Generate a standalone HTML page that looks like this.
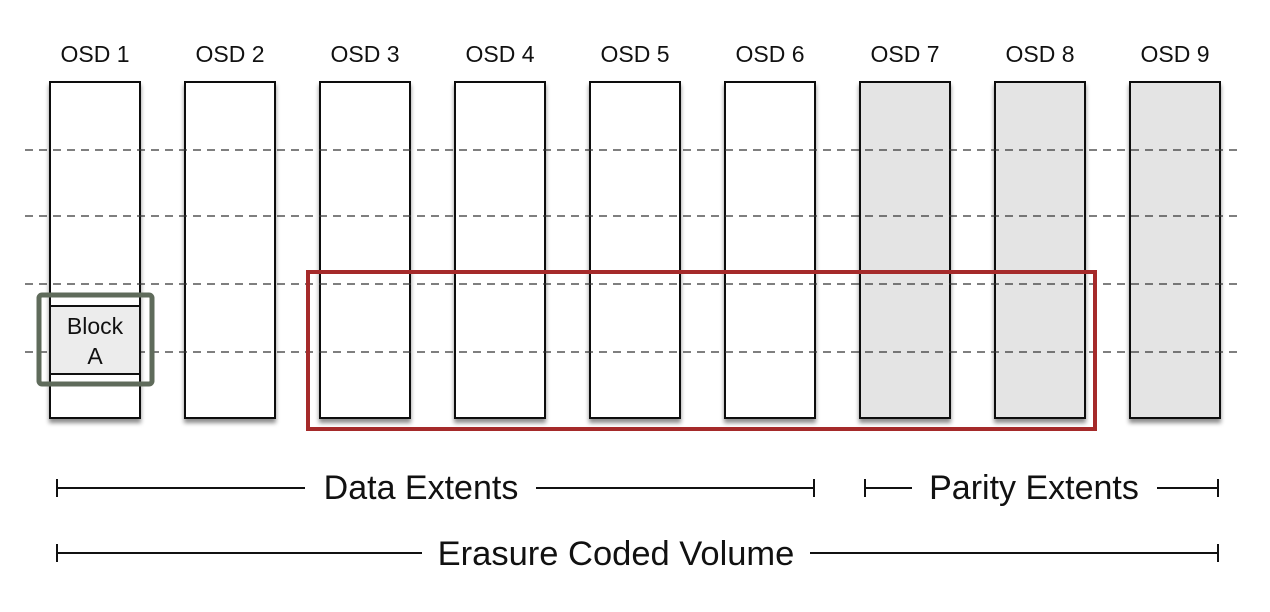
<!DOCTYPE html>
<html><head><meta charset="utf-8"><style>
html,body{margin:0;padding:0;background:#fff;}
svg{display:block;font-family:"Liberation Sans",Arial,sans-serif;}
</style></head><body>
<svg id="d" width="1270" height="612" viewBox="0 0 1270 612" xmlns="http://www.w3.org/2000/svg">
<defs><filter id="sh" x="-10%" y="-10%" width="120%" height="120%"><feDropShadow dx="0" dy="4" stdDeviation="2" flood-color="#000" flood-opacity="0.45"/></filter></defs>
<g id="cols"></g>
<g id="dashes"></g>
<rect x="50" y="306" width="90" height="68" fill="#ececec" stroke="#111" stroke-width="2"/>
<text x="95" y="334" font-size="23" text-anchor="middle" fill="#111">Block</text>
<text x="95" y="364" font-size="23" text-anchor="middle" fill="#111">A</text>
<rect x="39" y="295" width="113" height="89" rx="3" fill="none" stroke="#5f6b5b" stroke-width="5"/>
<rect x="308" y="272" width="787" height="157" fill="none" stroke="#a52a2a" stroke-width="4"/>
<g stroke="#111" stroke-width="2">
<line x1="57" y1="488" x2="305" y2="488"/><line x1="536" y1="488" x2="814" y2="488"/>
<line x1="57" y1="479" x2="57" y2="497"/><line x1="814" y1="479" x2="814" y2="497"/>
<line x1="865" y1="488" x2="912" y2="488"/><line x1="1157" y1="488" x2="1218" y2="488"/>
<line x1="865" y1="479" x2="865" y2="497"/><line x1="1218" y1="479" x2="1218" y2="497"/>
<line x1="57" y1="553" x2="422" y2="553"/><line x1="810" y1="553" x2="1218" y2="553"/>
<line x1="57" y1="544" x2="57" y2="562"/><line x1="1218" y1="544" x2="1218" y2="562"/>
</g>
<text x="421" y="499" font-size="34" text-anchor="middle" fill="#111">Data Extents</text>
<text x="1034" y="499" font-size="34" text-anchor="middle" fill="#111">Parity Extents</text>
<text x="616" y="565" font-size="34.5" text-anchor="middle" fill="#111">Erasure Coded Volume</text>
</svg>
<script>
const osdLabels=["OSD 1","OSD 2","OSD 3","OSD 4","OSD 5","OSD 6","OSD 7","OSD 8","OSD 9"];
const isParity=[0,0,0,0,0,0,1,1,1];
const stripeYs=[150,216,284,352];
const NS="http://www.w3.org/2000/svg";
const cols=document.getElementById('cols');
osdLabels.forEach((l,i)=>{
  const x=50+i*135;
  const r=document.createElementNS(NS,'rect');
  r.setAttribute('x',x);r.setAttribute('y',82);r.setAttribute('width',90);r.setAttribute('height',336);
  r.setAttribute('fill',isParity[i]?'#e4e4e4':'#fff');r.setAttribute('stroke','#111');r.setAttribute('stroke-width','2');
  r.setAttribute('filter','url(#sh)');
  
  
  cols.appendChild(r);
  const t=document.createElementNS(NS,'text');
  t.setAttribute('x',x+45);t.setAttribute('y',62);t.setAttribute('font-size','23');t.setAttribute('text-anchor','middle');t.setAttribute('fill','#111');
  t.textContent=l;
  
  
  cols.appendChild(t);
});
const dg=document.getElementById('dashes');
stripeYs.forEach(y=>{
  const ln=document.createElementNS(NS,'line');
  ln.setAttribute('x1',25);ln.setAttribute('x2',1240);ln.setAttribute('y1',y);ln.setAttribute('y2',y);
  ln.setAttribute('stroke','#333');ln.setAttribute('stroke-width','1.2');ln.setAttribute('stroke-dasharray','8 6');
  
  
  dg.appendChild(ln);
});
</script>
</body></html>
